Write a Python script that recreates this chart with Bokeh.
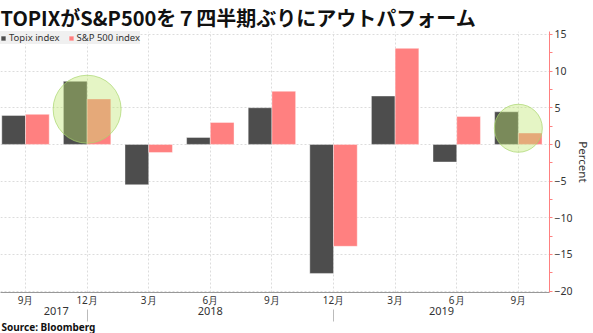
from bokeh.plotting import figure
from bokeh.models import Range1d, LinearAxis, FixedTicker, Title
from bokeh.embed import file_html
from bokeh.resources import INLINE

# ---- data ----
quarter_labels = ["9月", "12月", "3月", "6月", "9月", "12月", "3月", "6月", "9月"]
year_labels = ["2017", "2018", "2019"]
year_break_quarters = [1, 5]          # Dec quarters where the year separators sit
topix = [3.95, 8.6, -5.5, 0.95, 5.0, -17.6, 6.6, -2.4, 4.45]
sp500 = [4.1, 6.2, -1.1, 3.0, 7.25, -13.9, 13.1, 3.8, 1.55]
highlight_quarters = [1, 8]
highlight_values = [4.8, 2.2]
y_ticks = [-20, -15, -10, -5, 0, 5, 10, 15]
y_minor = [-17.5, -12.5, -7.5, -2.5, 2.5, 7.5, 12.5]
title_text = "TOPIXがS&P500を７四半期ぶりにアウトパフォーム"
source_text = "Source: Bloomberg"

# ---- styles ----
BLACK = "#4d4d4d"
PINK = "#ff8080"
GRID = "#dcdcdc"
FONT = "Noto Sans"
JFONT = "Noto Sans CJK JP"
BAR_W = 0.385

X_START, X_END = 0.094, 9.006
Y_START, Y_END = -20.2, 15.4

centers = [i + 0.5 for i in range(len(topix))]
black_x = [c - BAR_W / 2 for c in centers]
pink_x = [c + BAR_W / 2 for c in centers]

p = figure(width=593, height=333, output_backend="svg", toolbar_location=None,
           x_range=Range1d(X_START, X_END), y_range=Range1d(Y_START, Y_END),
           y_axis_location="right",
           min_border_left=0, min_border_right=38, min_border_top=25,
           min_border_bottom=38)
p.outline_line_color = None
p.background_fill_color = "white"

p.vbar(x=black_x, top=topix, bottom=0, width=BAR_W, fill_color=BLACK,
       line_color="white", line_alpha=0.4, line_width=1, legend_label="Topix index")
p.vbar(x=pink_x, top=sp500, bottom=0, width=BAR_W, fill_color=PINK,
       line_color="white", line_alpha=0.4, line_width=1, legend_label="S&P 500 index")

p.scatter(x=[centers[q] for q in highlight_quarters], y=highlight_values,
          size=[68, 48], marker="circle", fill_color="#bee66e", fill_alpha=0.4,
          line_color="#a8d66c", line_alpha=0.7, line_width=1)

# grids
p.xgrid.ticker = FixedTicker(ticks=centers)
p.ygrid.ticker = FixedTicker(ticks=y_ticks)
for g in (p.xgrid, p.ygrid):
    g.grid_line_color = GRID
    g.grid_line_dash = "2 2"
    g.grid_line_width = 1

# right axis
ya = p.yaxis[0]
ya.ticker = FixedTicker(ticks=y_ticks, minor_ticks=y_minor)
ya.axis_line_color = PINK
ya.major_tick_line_color = PINK
ya.minor_tick_line_color = PINK
ya.major_tick_in = 0
ya.major_tick_out = 3
ya.minor_tick_in = 0
ya.minor_tick_out = 3
ya.major_label_standoff = 2
ya.major_label_text_font = FONT
ya.major_label_text_font_size = "10.5px"
ya.major_label_text_color = "#333333"
ya.axis_label = "Percent"
ya.axis_label_text_font = FONT
ya.axis_label_text_font_size = "11.5px"
ya.axis_label_text_font_style = "normal"
ya.axis_label_text_color = "#333333"
ya.axis_label_standoff = 0

# bottom month axis
xa = p.xaxis[0]
xa.ticker = FixedTicker(ticks=centers)
xa.major_label_overrides = {c: lab for c, lab in zip(centers, quarter_labels)}
xa.axis_line_color = "#999999"
xa.major_tick_line_color = "#bbbbbb"
xa.major_tick_in = 0
xa.major_tick_out = 0
xa.minor_tick_line_color = None
xa.major_label_standoff = 0
xa.major_label_text_font = FONT
xa.major_label_text_font_size = "10px"
xa.major_label_text_color = "#333333"

# year axis
seps = [centers[q] for q in year_break_quarters]
bounds = [centers[0]] + seps + [X_END]
year_pos = [(a + b) / 2 for a, b in zip(bounds[:-1], bounds[1:])]
ya2 = LinearAxis(ticker=FixedTicker(ticks=year_pos, minor_ticks=seps))
ya2.major_label_overrides = {y: lab for y, lab in zip(year_pos, year_labels)}
ya2.axis_line_color = None
ya2.major_tick_line_color = None
ya2.major_tick_out = 0
ya2.minor_tick_line_color = "#bbbbbb"
ya2.minor_tick_in = 0
ya2.minor_tick_out = 12
ya2.major_label_standoff = -15
ya2.major_label_text_font = FONT
ya2.major_label_text_font_size = "11px"
ya2.major_label_text_color = "#333333"
p.add_layout(ya2, "below")

# legend
lg = p.legend[0]
lg.location = "top_left"
lg.orientation = "horizontal"
lg.margin = 0
lg.padding = 5
lg.spacing = 8
lg.label_standoff = 3
lg.glyph_width = 6
lg.glyph_height = 6
lg.label_text_font = FONT
lg.label_text_font_size = "9.5px"
lg.label_text_color = "#333333"
lg.label_height = 10
lg.background_fill_color = "#f0f0f0"
lg.background_fill_alpha = 1
lg.border_line_color = None

# title and source
p.title = Title(text=title_text, align="left", offset=0, standoff=0,
                text_font=JFONT, text_font_size="20px", text_font_style="bold",
                text_color="#111111")
p.add_layout(Title(text=source_text, align="left", offset=1, standoff=0,
                   text_font=FONT, text_font_size="10px", text_font_style="bold",
                   text_color="#111111"), "below")

open("out.html", "w").write(file_html(p, INLINE))
